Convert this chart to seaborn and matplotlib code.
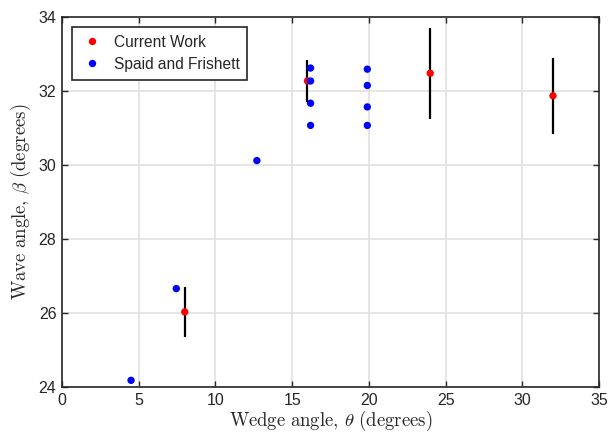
import matplotlib
matplotlib.use("Agg")
import matplotlib.pyplot as plt
import seaborn as sns
import pandas as pd

# Data
cw_theta = [8, 16, 24, 32]
cw_beta = [26.03, 32.27, 32.48, 31.87]
cw_err = [0.67, 0.58, 1.23, 1.03]

sf_theta = [4.5, 7.45, 12.7, 16.2, 16.2, 16.2, 16.2, 19.9, 19.9, 19.9, 19.9]
sf_beta = [24.18, 26.66, 30.12, 32.62, 32.27, 31.67, 31.07, 32.59, 32.15, 31.57, 31.07]

x_ticks = [0, 5, 10, 15, 20, 25, 30, 35]
y_ticks = [24, 26, 28, 30, 32, 34]

sns.set_theme(style="whitegrid")
plt.rcParams['font.family'] = ['Liberation Sans', 'DejaVu Sans']
plt.rcParams['mathtext.fontset'] = 'cm'

fig = plt.figure(figsize=(6.08, 4.34), dpi=100)
ax = fig.add_axes([62/608, 1 - 387/434, (599-62)/608, (387-17)/434])

df_cw = pd.DataFrame({"theta": cw_theta, "beta": cw_beta, "src": "Current Work"})
df_sf = pd.DataFrame({"theta": sf_theta, "beta": sf_beta, "src": "Spaid and Frishett"})
df = pd.concat([df_cw, df_sf], ignore_index=True)

ax.errorbar(cw_theta, cw_beta, yerr=cw_err, fmt='none', ecolor='black',
            elinewidth=1.6, capsize=0, zorder=2)
sns.scatterplot(data=df, x="theta", y="beta", hue="src",
                palette={"Current Work": "#ff0000", "Spaid and Frishett": "#0000ff"},
                s=28, linewidth=0, ax=ax, zorder=3)

ax.set_xlim(0, 35)
ax.set_ylim(24, 34)
ax.set_xticks(x_ticks)
ax.set_yticks(y_ticks)
ax.grid(True, color='#e0e0e0', linewidth=1.2)
ax.set_facecolor('white')
for sp in ax.spines.values():
    sp.set_visible(True)
    sp.set_color('#262626')
    sp.set_linewidth(1.2)
ax.tick_params(direction='in', length=4, width=1.0, color='#262626',
               top=True, right=True, bottom=True, left=True,
               labelsize=11.5, labelcolor='#262626', pad=4)

ax.set_xlabel(r'$\mathrm{Wedge\ angle,}\,\theta\ \mathrm{(degrees)}$', fontsize=13.5, labelpad=1, color='#262626')
ax.set_ylabel(r'$\mathrm{Wave\ angle,}\,\beta\ \mathrm{(degrees)}$', fontsize=13.5, labelpad=4, color='#262626')

leg = ax.legend(loc='upper left', bbox_to_anchor=(0.018, 0.973), borderaxespad=0,
                frameon=True, fancybox=False, edgecolor='#262626', fontsize=11.2,
                handletextpad=0.6, borderpad=0.5, labelspacing=0.45,
                handlelength=1.6, markerscale=1.0, title=None)
leg.get_frame().set_linewidth(1.2)
leg.get_frame().set_alpha(1)

fig.savefig("out.png", dpi=100)
